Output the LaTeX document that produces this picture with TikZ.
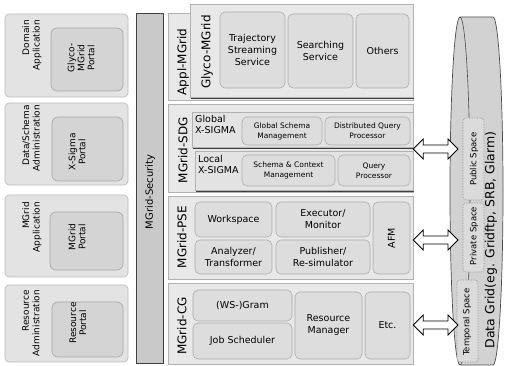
\documentclass[tikz,border=0pt]{standalone}
\usepackage{fontspec}
\setmainfont{DejaVu Sans}
\usetikzlibrary{shadows,calc}
\begin{document}
\begin{tikzpicture}[x=1pt,y=-1pt,
  panel/.style={draw=gray!55, fill=gray!22, rounded corners=4pt, line width=0.6pt, inner sep=0pt},
  portal/.style={draw=gray!70, fill=gray!34, rounded corners=6pt, line width=0.6pt, inner sep=0pt},
  secbar/.style={draw=black!75, fill=gray!42, line width=0.8pt, inner sep=0pt},
  layer/.style={draw=gray!60, fill=gray!18, line width=0.6pt, inner sep=0pt},
  comp/.style={draw=gray!65, fill=gray!27, rounded corners=5pt, line width=0.6pt, align=center, inner sep=1pt},
  shadowed/.style={drop shadow={shadow xshift=1.2pt, shadow yshift=-1.8pt, fill=black!75, opacity=1}},
  lbl/.style={rotate=90, inner sep=0pt, font=\fontsize{12}{14}\selectfont},
  ptxt/.style={rotate=90, inner sep=0pt, align=center, font=\fontsize{9}{10}\selectfont},
  atxt/.style={rotate=90, inner sep=0pt, align=right, anchor=north east, font=\fontsize{9}{10.5}\selectfont},
  big/.style={font=\fontsize{9.5}{12}\selectfont},
  small/.style={font=\fontsize{7.5}{10}\selectfont},
  space/.style={draw=black!45, densely dotted, fill=gray!28, rounded corners=3pt, line width=0.6pt, inner sep=0pt},
  stxt/.style={rotate=90, inner sep=0pt, font=\fontsize{8.5}{10}\selectfont},
  cyl/.style={draw=black!70, fill=gray!35, line width=0.7pt},
  blockarrow/.style={draw=black, fill=white, line width=0.8pt, line join=miter}
]
\useasboundingbox (0,0) rectangle (507,366);

% ---------------- left column ----------------
\node[panel, minimum width=123, minimum height=83] (p1) at (66.5,55.5) {};
\node[portal, minimum width=72, minimum height=63] (q1) at (87,59.5) {};
\node[atxt] (p1t) at (22,20) {Domain\\Application};
\node[ptxt] (q1t) at (81,58) {Glyco-\\MGrid\\Portal};

\node[panel, minimum width=123, minimum height=82] (p2) at (66.5,144) {};
\node[portal, minimum width=71, minimum height=64] (q2) at (87.5,149) {};
\node[atxt] (p2t) at (22,105) {Data/Schema\\Administration};
\node[ptxt] (q2t) at (77,152) {X-Sigma\\Portal};

\node[panel, minimum width=123, minimum height=82] (p3) at (66.5,236) {};
\node[portal, minimum width=73, minimum height=58] (q3) at (86.5,241) {};
\node[atxt] (p3t) at (22,202) {MGrid\\Application};
\node[ptxt] (q3t) at (77,237) {MGrid\\Portal};

\node[panel, minimum width=123, minimum height=77] (p4) at (66.5,323.5) {};
\node[portal, minimum width=71, minimum height=55] (q4) at (87.5,329.5) {};
\node[atxt] (p4t) at (22,290) {Resource\\Administration};
\node[ptxt] (q4t) at (78,323) {Resource\\Portal};

% ---------------- security bar ----------------
\node[secbar, minimum width=27, minimum height=350] (sec) at (149.5,188) {};
\node[rotate=90, inner sep=0pt, font=\fontsize{10}{12}\selectfont] (sect) at (150,192) {MGrid-Security};

% ---------------- Appl-MGrid ----------------
\node[layer, minimum width=245, minimum height=87] (appl) at (290.5,56.5) {};
\node[layer, shadowed, minimum width=223, minimum height=93] (glyco) at (301.5,50.5) {};
\node[lbl] (applt) at (183,62) {Appl-MGrid};
\node[lbl] (glycot) at (207,52) {Glyco-MGrid};
\node[comp, big, minimum width=65, minimum height=76] (traj) at (252.5,50) {Trajectory\\Streaming\\Service};
\node[comp, big, minimum width=65, minimum height=74] (search) at (320.5,51) {Searching\\Service};
\node[comp, big, minimum width=53, minimum height=74] (others) at (382.5,51) {Others};

% ---------------- MGrid-SDG ----------------
\node[layer, minimum width=245, minimum height=88] (sdg) at (290.5,148) {};
\node[lbl] (sdgt) at (183,150) {MGrid-SDG};
\node[layer, shadowed, fill=gray!22, minimum width=221, minimum height=35] (global) at (302.5,129.5) {};
\node[inner sep=0pt, anchor=north west, align=left, font=\fontsize{9.5}{11.5}\selectfont] (globalt) at (195,115) {Global\\X-SIGMA};
\node[comp, small, minimum width=80, minimum height=28] (gsm) at (282,131) {Global Schema\\Management};
\node[comp, small, minimum width=85, minimum height=28] (dqp) at (367.5,131) {Distributed Query\\Processor};
\node[layer, shadowed, fill=gray!22, minimum width=218, minimum height=39] (local) at (304,170.5) {};
\node[inner sep=0pt, anchor=north west, align=left, font=\fontsize{9.5}{11.5}\selectfont] (localt) at (198,155) {Local\\X-SIGMA};
\node[comp, small, minimum width=93, minimum height=31] (scm) at (288.5,170.5) {Schema \& Context\\Management};
\node[comp, small, minimum width=72, minimum height=31] (qp) at (374,170.5) {Query\\Processor};

% ---------------- MGrid-PSE ----------------
\node[layer, minimum width=245, minimum height=83] (pse) at (290.5,237.5) {};
\node[lbl] (pset) at (182,237) {MGrid-PSE};
\node[comp, big, minimum width=77, minimum height=35] (work) at (233.5,219.5) {Workspace};
\node[comp, big, minimum width=77, minimum height=34] (anal) at (233.5,257) {Analyzer/\\Transformer};
\node[comp, big, minimum width=94, minimum height=35] (exec) at (323,219.5) {Executor/\\Monitor};
\node[comp, big, minimum width=94, minimum height=34] (publ) at (323,257) {Publisher/\\Re-simulator};
\node[comp, minimum width=37, minimum height=72] (afm) at (391.5,238) {};
\node[rotate=90, inner sep=0pt, font=\fontsize{9.5}{12}\selectfont] (afmt) at (afm) {AFM};

% ---------------- MGrid-CG ----------------
\node[layer, minimum width=245, minimum height=81] (cg) at (290.5,323.5) {};
\node[lbl] (cgt) at (182,326) {MGrid-CG};
\node[comp, big, minimum width=99, minimum height=31] (gram) at (242.5,305.5) {(WS-)Gram};
\node[comp, big, minimum width=99, minimum height=36] (jobs) at (242.5,341) {Job Scheduler};
\node[comp, big, minimum width=67, minimum height=67] (rm) at (328.5,325.5) {Resource\\Manager};
\node[comp, big, minimum width=45, minimum height=67] (etc) at (387.5,325.5) {Etc.};

% ---------------- Data grid cylinder ----------------
\draw[cyl] (460,17) -- (493,17)
  arc[start angle=-90, end angle=90, x radius=10, y radius=174]
  -- (460,365)
  arc[start angle=90, end angle=270, x radius=10, y radius=174] -- cycle;
\draw[black!70, line width=0.6pt] (460,17) arc[start angle=-90, end angle=90, x radius=10, y radius=174];
\coordinate (dg) at (476,191);
\node[space, minimum width=21, minimum height=82] (pub) at (473.5,159) {};
\node[stxt] (pubt) at (474,159) {Public Space};
\node[space, minimum width=21, minimum height=69] (priv) at (473.5,237.5) {};
\node[stxt] (privt) at (474,236) {Private Space};
\node[space, minimum width=21, minimum height=82] (temp) at (467.5,321) {};
\node[stxt] (tempt) at (467,322) {Temporal Space};
\node[rotate=90, inner sep=0pt, font=\fontsize{12.5}{14}\selectfont] (dgt) at (491,240) {Data Grid(eg. Gridftp, SRB, Glarm)};

% ---------------- block arrows ----------------
\coordinate (a1s) at (sdg.east |- 0,149);  \coordinate (a1e) at (458,149);
\coordinate (a2s) at (pse.east |- 0,240);  \coordinate (a2e) at (458,240);
\coordinate (a3s) at (cg.east |- 0,325);   \coordinate (a3e) at (458,325);
\foreach \s/\e in {a1s/a1e, a2s/a2e, a3s/a3e}{
  \draw[blockarrow] (\s) -- ++(10,-10) -- ++(0,6) -- ($(\e)+(-10,-4)$) -- ++(0,-6) -- (\e)
    -- ++(-10,10) -- ++(0,-6) -- ($(\s)+(10,4)$) -- ++(0,6) -- cycle;
}
\end{tikzpicture}
\end{document}
